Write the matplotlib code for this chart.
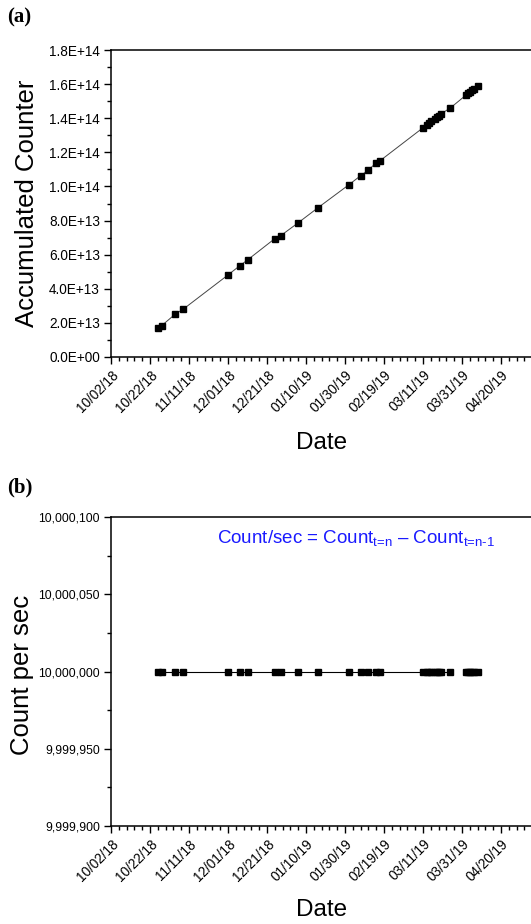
import matplotlib
matplotlib.use('Agg')
import matplotlib.pyplot as plt
import matplotlib.dates as mdates
from matplotlib.ticker import FixedLocator, MultipleLocator, FuncFormatter
from datetime import datetime
import numpy as np

plt.rcParams['font.family'] = ['Liberation Sans', 'DejaVu Sans']
plt.rcParams['mathtext.fontset'] = 'custom'
plt.rcParams['mathtext.rm'] = 'Liberation Sans'
plt.rcParams['mathtext.it'] = 'Liberation Sans'
plt.rcParams['mathtext.bf'] = 'Liberation Sans:bold'

# ---------------- data ----------------
dates = ["2018-10-26", "2018-10-28", "2018-11-04", "2018-11-08", "2018-12-01",
         "2018-12-07", "2018-12-11", "2018-12-25", "2018-12-28", "2019-01-06",
         "2019-01-16", "2019-02-01", "2019-02-07", "2019-02-11", "2019-02-15",
         "2019-02-17", "2019-03-11", "2019-03-13", "2019-03-14", "2019-03-15",
         "2019-03-17", "2019-03-18", "2019-03-19", "2019-03-20", "2019-03-25",
         "2019-04-02", "2019-04-03", "2019-04-04", "2019-04-05", "2019-04-06",
         "2019-04-08"]
accumulated_counter = [1.68e13, 1.84e13, 2.52e13, 2.80e13, 4.81e13,
                       5.35e13, 5.69e13, 6.94e13, 7.11e13, 7.87e13,
                       8.74e13, 1.010e14, 1.063e14, 1.096e14, 1.139e14,
                       1.151e14, 1.344e14, 1.362e14, 1.371e14, 1.382e14,
                       1.398e14, 1.406e14, 1.415e14, 1.424e14, 1.460e14,
                       1.535e14, 1.545e14, 1.555e14, 1.564e14, 1.573e14,
                       1.589e14]
count_per_sec = [10000000, 10000000, 10000000, 10000000, 10000000,
                 10000000, 10000000, 10000000, 10000000, 10000000,
                 10000000, 10000000, 10000000, 10000000, 10000000,
                 10000000, 10000000, 10000000, 10000000, 10000000,
                 10000000, 10000000, 10000000, 10000000, 10000000,
                 10000000, 10000000, 10000000, 10000000, 10000000,
                 10000000]
rate_line_break_after = "2019-03-25"   # no connecting line after this date in (b)

x_tick_labels = ["10/02/18", "10/22/18", "11/11/18", "12/01/18", "12/21/18",
                 "01/10/19", "01/30/19", "02/19/19", "03/11/19", "03/31/19",
                 "04/20/19"]
x_limits = ["10/02/18", "05/10/19"]
y1_ticks = [0.0, 2e13, 4e13, 6e13, 8e13, 1e14, 1.2e14, 1.4e14, 1.6e14, 1.8e14]
y2_ticks = [9999900, 9999950, 10000000, 10000050, 10000100]

# ---------------- figure ----------------
W, H = 531, 924
fig = plt.figure(figsize=(W / 100, H / 100), dpi=100)

xd = [datetime.strptime(d, "%Y-%m-%d") for d in dates]
xt = [mdates.date2num(datetime.strptime(s, "%m/%d/%y")) for s in x_tick_labels]
xl = [mdates.date2num(datetime.strptime(s, "%m/%d/%y")) for s in x_limits]
minor_x = np.arange(xl[0], xl[1] + 0.1, 4)

def style_x(ax):
    ax.set_xlim(xl)
    ax.xaxis.set_major_locator(FixedLocator(xt))
    ax.xaxis.set_minor_locator(FixedLocator(minor_x))
    ax.set_xticklabels(x_tick_labels, rotation=45, ha='right',
                       rotation_mode='anchor', fontsize=9.8)
    ax.tick_params(axis='both', which='major', direction='out', length=5,
                   width=1, labelsize=9.8)
    ax.tick_params(axis='both', which='minor', direction='out', length=3,
                   width=1)
    ax.tick_params(axis='x', pad=3)
    ax.tick_params(axis='y', pad=3)
    for s in ax.spines.values():
        s.set_linewidth(1.1)

# ---- (a) ----
ax1 = fig.add_axes([111 / W, 1 - 357 / H, 429 / W, 307 / H])
ax1.plot(xd, accumulated_counter, color='#444444', lw=0.7, marker='s',
         markersize=5, markerfacecolor='black', markeredgecolor='black')
style_x(ax1)
ax1.set_ylim(0, 1.8e14)
ax1.yaxis.set_major_locator(FixedLocator(y1_ticks))
ax1.yaxis.set_minor_locator(MultipleLocator(1e13))
ax1.yaxis.set_major_formatter(FuncFormatter(lambda v, p: "%.1E" % v))

fig.text(27 / W, 1 - 203 / H, "Accumulated Counter", rotation=90,
         ha='center', va='center', fontsize=18.5)
fig.text(322 / W, 1 - 443 / H, "Date", ha='center', va='center', fontsize=17.5)
fig.text(7 / W, 1 - 17 / H, "(a)", ha='left', va='center', fontsize=15,
         fontweight='bold', family=['Liberation Serif'])

# ---- (b) ----
ax2 = fig.add_axes([111 / W, 1 - 826 / H, 429 / W, 309 / H])
brk = dates.index(rate_line_break_after) + 1
ax2.plot(xd[:brk], count_per_sec[:brk], color='black', lw=0.8)
ax2.plot(xd[brk:], count_per_sec[brk:], color='black', lw=0.8)
ax2.plot(xd, count_per_sec, ls='none', marker='s', markersize=5,
         markerfacecolor='black', markeredgecolor='black')
style_x(ax2)
ax2.set_ylim(9999900, 10000100)
ax2.yaxis.set_major_locator(FixedLocator(y2_ticks))
ax2.yaxis.set_minor_locator(MultipleLocator(25))
ax2.yaxis.set_major_formatter(FuncFormatter(lambda v, p: "{:,.0f}".format(v)))
ax2.tick_params(axis='y', labelsize=8.8)

fig.text(356 / W, 1 - 538 / H,
         r"Count/sec = Count$_{\text{t=n}}$ – Count$_{\text{t=n-1}}$",
         ha='center', va='center', fontsize=13.5, color='#1a1aff')
fig.text(22 / W, 1 - 675 / H, "Count per sec", rotation=90,
         ha='center', va='center', fontsize=18.5)
fig.text(322 / W, 1 - 910 / H, "Date", ha='center', va='center', fontsize=17.5)
fig.text(7 / W, 1 - 487 / H, "(b)", ha='left', va='center', fontsize=15,
         fontweight='bold', family=['Liberation Serif'])

fig.savefig("out.png", dpi=100)
